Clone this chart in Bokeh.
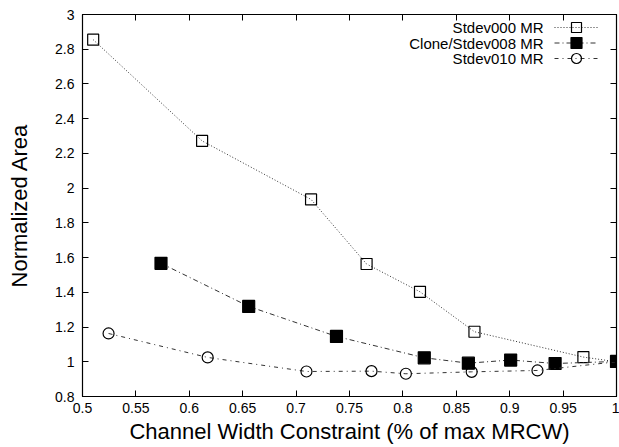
from bokeh.plotting import figure
from bokeh.models import LinearAxis, FixedTicker, Label, Range1d
from bokeh.embed import file_html
from bokeh.resources import INLINE

# ---- data ----
x_std000 = [0.510, 0.612, 0.714, 0.766, 0.816, 0.867, 0.969, 1.0]
y_std000 = [2.855, 2.272, 1.935, 1.563, 1.403, 1.173, 1.027, 1.0]

x_clone = [0.5735, 0.6556, 0.7378, 0.820, 0.8613, 0.9009, 0.9425, 1.0]
y_clone = [1.567, 1.319, 1.146, 1.023, 0.992, 1.010, 0.990, 1.002]

x_std010 = [0.5244, 0.6172, 0.7097, 0.7706, 0.8028, 0.8644, 0.926, 1.0]
y_std010 = [1.163, 1.025, 0.944, 0.946, 0.931, 0.942, 0.950, 1.0]

series_names = ["Stdev000 MR", "Clone/Stdev008 MR", "Stdev010 MR"]

x_ticks = [0.5, 0.55, 0.6, 0.65, 0.7, 0.75, 0.8, 0.85, 0.9, 0.95, 1.0]
x_tick_labels = ["0.5", "0.55", "0.6", "0.65", "0.7", "0.75", "0.8", "0.85",
                 "0.9", "0.95", "1"]
y_ticks = [0.8, 1.0, 1.2, 1.4, 1.6, 1.8, 2.0, 2.2, 2.4, 2.6, 2.8, 3.0]
y_tick_labels = ["0.8", "1", "1.2", "1.4", "1.6", "1.8", "2", "2.2", "2.4",
                 "2.6", "2.8", "3"]

FONT = "Liberation Sans"
W, H = 619, 447
BL, BR, BT, BB = 82, 3, 14, 51
FW, FH = W - BL - BR, H - BT - BB

p = figure(width=W, height=H, output_backend="svg", toolbar_location=None,
           x_range=Range1d(0.5, 1.0), y_range=Range1d(0.8, 3.0),
           x_axis_location=None, y_axis_location=None,
           min_border_left=BL, min_border_right=BR, min_border_top=BT,
           min_border_bottom=BB)
p.xgrid.visible = False
p.ygrid.visible = False
p.outline_line_color = "black"
p.outline_line_width = 1.2
p.background_fill_color = "white"
p.border_fill_color = "white"
# pixel ranges for the legend samples
p.extra_x_ranges = {"px": Range1d(0, FW)}
p.extra_y_ranges = {"px": Range1d(0, FH)}


def make_axis(kw, ticks, labels, show_labels):
    ax = LinearAxis(**kw)
    ax.ticker = FixedTicker(ticks=ticks)
    if show_labels:
        ax.major_label_overrides = {t: l for t, l in zip(ticks, labels)}
    else:
        ax.major_label_overrides = {t: "" for t in ticks}
    ax.major_tick_in = 6
    ax.major_tick_out = 0
    ax.minor_tick_in = 0
    ax.minor_tick_out = 0
    ax.axis_line_color = "black"
    ax.major_tick_line_color = "black"
    ax.major_label_text_font = FONT
    ax.major_label_text_font_size = "14px"
    ax.major_label_text_color = "black"
    ax.axis_label_text_font = FONT
    ax.axis_label_text_font_style = "normal"
    ax.axis_label_text_color = "black"
    ax.axis_label_text_font_size = "22px"
    return ax


xb = make_axis(dict(axis_label="Channel Width Constraint (% of max MRCW)"),
               x_ticks, x_tick_labels, True)
xb.major_label_standoff = 6
xb.axis_label_standoff = 3
p.add_layout(xb, "below")

yl = make_axis(dict(axis_label="Normalized Area"), y_ticks, y_tick_labels, True)
yl.major_label_standoff = 8
yl.axis_label_standoff = 20
p.add_layout(yl, "left")

xt = make_axis({}, x_ticks, x_tick_labels, False)
xt.major_label_standoff = 0
p.add_layout(xt, "above")
yr = make_axis({}, y_ticks, y_tick_labels, False)
yr.major_label_standoff = 0
p.add_layout(yr, "right")

# ---- series ----
styles = [
    dict(dash="1 2", marker="square", size=11, fill="white", falpha=0),
    dict(dash="5 3 1 3", marker="square", size=12, fill="black", falpha=1),
    dict(dash="4 4 1 4", marker="circle", size=11, fill="white", falpha=0),
]
series = [(x_std000, y_std000), (x_clone, y_clone), (x_std010, y_std010)]

for (xs, ys), st in zip(series, styles):
    p.line(xs, ys, line_color="#333333", line_width=1, line_dash=st["dash"])
    p.scatter(xs, ys, marker=st["marker"], size=st["size"],
              fill_color=st["fill"], fill_alpha=st["falpha"],
              line_color="black", line_width=1.2)

# ---- legend: texts on the left, samples on the right ----
LX_TEXT, LX0, LX1 = 461, 472, 516
for i, (name, st) in enumerate(zip(series_names, styles)):
    ly = FH - 13 - 15.5 * i
    p.add_layout(Label(x=LX_TEXT, y=ly, x_units="screen", y_units="screen",
                       text=name, text_align="right", text_baseline="middle",
                       text_font=FONT, text_font_size="15px",
                       text_color="black"))
    p.line([LX0, LX1], [ly, ly], x_range_name="px", y_range_name="px",
           line_color="#333333", line_width=1, line_dash=st["dash"])
    p.scatter([(LX0 + LX1) / 2], [ly], x_range_name="px", y_range_name="px",
              marker=st["marker"], size=st["size"] - 1,
              fill_color=st["fill"], fill_alpha=st["falpha"],
              line_color="black", line_width=1.2)

open("out.html", "w").write(file_html(p, INLINE))
